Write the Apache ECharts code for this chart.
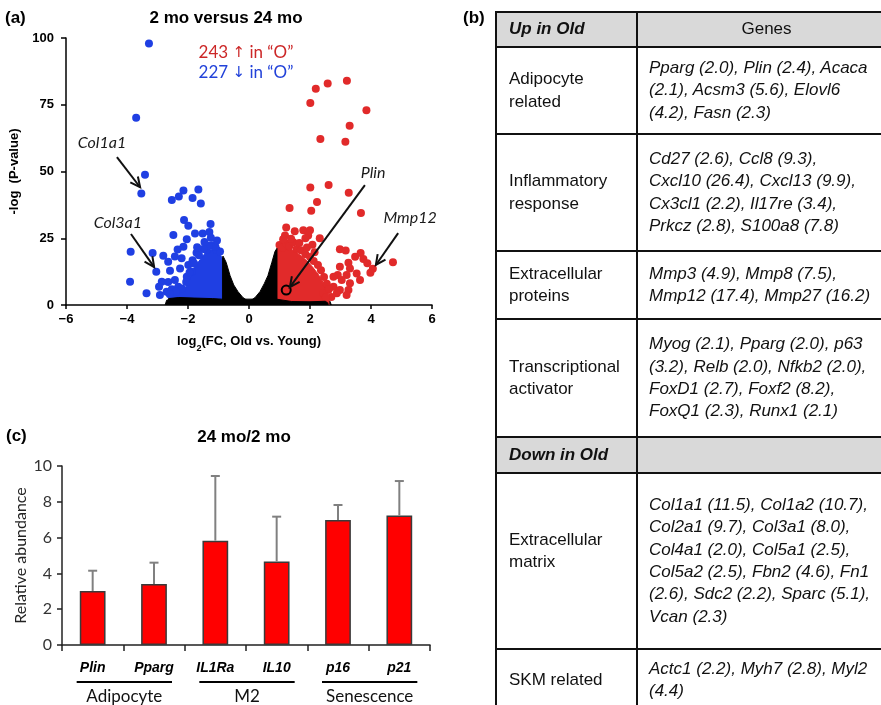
<!DOCTYPE html>
<html>
<head>
<meta charset="utf-8">
<script src="https://cdn.jsdelivr.net/npm/echarts@6/dist/echarts.min.js"></script>
<style>
  html, body { margin: 0; padding: 0; background: #fff; overflow: hidden; }
  #chart { position: absolute; left: 0; top: 0; width: 881px; height: 705px; }
  #genes { position: absolute; left: 495px; top: 11px; width: 400px; border-collapse: collapse; table-layout: fixed;
    font-family: "Liberation Sans", Arial, sans-serif; font-size: 17px; color: #111; line-height: 22.3px; }
  #genes td { border: 2px solid #111; vertical-align: middle; white-space: nowrap; padding: 0 0 0 12px; }
  #genes td.g { font-style: italic; padding-left: 11px; }
  #genes tr.hd td { background: #d9d9d9; }
  #genes .bi { font-weight: bold; font-style: italic; }
</style>
</head>
<body>
<div id="chart"></div>
<table id="genes">
  <colgroup><col style="width:141px"><col style="width:259px"></colgroup>
  <tr class="hd" style="height:35px"><td class="bi">Up in Old</td><td style="text-align:center;padding:0">Genes</td></tr>
  <tr style="height:87px"><td>Adipocyte<br>related</td><td class="g">Pparg (2.0), Plin (2.4), Acaca<br>(2.1), Acsm3 (5.6), Elovl6<br>(4.2), Fasn (2.3)</td></tr>
  <tr style="height:117px"><td>Inflammatory<br>response</td><td class="g">Cd27 (2.6), Ccl8 (9.3),<br>Cxcl10 (26.4), Cxcl13 (9.9),<br>Cx3cl1 (2.2), Il17re (3.4),<br>Prkcz (2.8), S100a8 (7.8)</td></tr>
  <tr style="height:68px"><td>Extracellular<br>proteins</td><td class="g">Mmp3 (4.9), Mmp8 (7.5),<br>Mmp12 (17.4), Mmp27 (16.2)</td></tr>
  <tr style="height:118px"><td>Transcriptional<br>activator</td><td class="g">Myog (2.1), Pparg (2.0), p63<br>(3.2), Relb (2.0), Nfkb2 (2.0),<br>FoxD1 (2.7), Foxf2 (8.2),<br>FoxQ1 (2.3), Runx1 (2.1)</td></tr>
  <tr class="hd" style="height:36px"><td class="bi">Down in Old</td><td></td></tr>
  <tr style="height:176px"><td style="padding-bottom:20px">Extracellular<br>matrix</td><td class="g">Col1a1 (11.5), Col1a2 (10.7),<br>Col2a1 (9.7), Col3a1 (8.0),<br>Col4a1 (2.0), Col5a1 (2.5),<br>Col5a2 (2.5), Fbn2 (4.6), Fn1<br>(2.6), Sdc2 (2.2), Sparc (5.1),<br>Vcan (2.3)</td></tr>
  <tr style="height:62px"><td>SKM related</td><td class="g">Actc1 (2.2), Myh7 (2.8), Myl2<br>(4.4)</td></tr>
</table>
<script>
// (a) volcano: significant genes, [log2FC, -log P]
const upGenes = [
  [3.21, 84.0], [2.58, 83.0], [2.19, 81.0], [2.01, 75.7], [3.85, 72.9], [3.30, 67.1], [2.34, 62.2], [3.16, 61.1],
  [2.01, 44.0], [2.61, 44.9], [3.27, 42.0], [2.23, 38.6], [1.33, 36.3], [2.04, 35.3], [3.67, 34.5],
  [1.22, 29.0], [1.50, 27.6], [1.78, 28.0], [2.00, 28.0], [1.18, 26.0], [1.94, 26.0], [1.85, 25.0], [2.32, 25.0],
  [2.98, 20.9], [3.17, 20.4], [3.66, 19.5], [3.48, 18.1], [3.75, 17.2], [4.72, 16.0], [3.88, 15.6], [4.06, 13.6],
  [3.98, 12.1], [3.26, 15.8], [2.98, 14.3], [3.31, 13.7], [3.53, 11.8], [3.20, 11.2], [2.91, 11.2], [3.64, 9.4],
  [3.31, 8.1], [3.04, 9.4], [2.77, 10.6], [2.77, 6.8], [2.98, 5.6], [3.26, 5.6], [3.20, 3.7], [2.60, 5.6],
  [2.88, 4.4], [2.44, 4.4],
  [1.00, 22.5], [1.10, 21.5], [1.22, 23.0], [1.32, 22.0], [1.45, 23.5], [1.56, 21.0], [1.70, 20.5], [1.85, 19.0],
  [2.00, 18.0], [2.12, 16.5], [2.26, 15.0], [2.36, 13.0], [2.46, 10.5], [2.55, 8.0], [2.62, 6.0], [1.65, 23.2],
  [1.90, 21.5], [2.15, 19.8], [1.38, 24.8], [2.70, 3.0], [2.52, 2.8], [2.08, 22.6], [1.12, 24.6]
];
const downGenes = [
  [-3.28, 97.9], [-3.70, 70.1], [-3.41, 48.8], [-3.53, 41.8],
  [-2.53, 39.3], [-2.30, 40.6], [-2.15, 42.9], [-1.66, 43.3], [-1.85, 40.1], [-1.58, 38.0],
  [-2.13, 31.8], [-1.26, 30.3], [-1.99, 29.7], [-2.48, 26.2], [-1.77, 26.8], [-1.52, 26.8], [-1.30, 27.3], [-2.04, 24.6],
  [-3.88, 19.9], [-3.16, 19.5], [-2.81, 18.4], [-2.43, 18.2], [-2.15, 21.8], [-2.34, 20.8],
  [-3.04, 12.5], [-2.65, 16.2], [-2.21, 17.5], [-2.59, 12.8], [-2.26, 13.7], [-1.99, 15.0],
  [-3.90, 8.7], [-2.86, 8.7], [-2.65, 8.6], [-2.95, 6.8], [-2.92, 3.7], [-3.36, 4.4], [-2.43, 9.4], [-2.32, 6.8],
  [-2.70, 5.0], [-2.53, 5.9], [-2.04, 10.6], [-1.88, 12.5], [-1.85, 16.8], [-1.72, 19.6], [-1.39, 20.6],
  [-1.22, 22.4], [-1.06, 20.6],
  [-0.95, 20.0], [-1.10, 21.8], [-1.32, 22.2], [-1.50, 21.0], [-1.64, 18.6], [-1.80, 15.5], [-1.95, 12.2],
  [-2.06, 8.6], [-2.20, 6.2], [-2.40, 5.0], [-2.60, 4.0], [-1.46, 23.6],
  [-1.05, 24.2], [-1.70, 21.6], [-1.25, 25.2]
];
// outlines of the dense clouds (top edge, filled down to 0)
const upCore = [[0.95, 0], [0.95, 21], [1.1, 22], [1.3, 21.5], [1.5, 20], [1.7, 18.5], [1.9, 16.5], [2.1, 14],
  [2.3, 11], [2.45, 8], [2.55, 5], [2.62, 2], [2.62, 0]];
const downCore = [[-2.62, 0], [-2.62, 3], [-2.4, 4.5], [-2.1, 6], [-1.95, 10], [-1.8, 14], [-1.6, 17], [-1.4, 20],
  [-1.2, 21], [-1.0, 20], [-0.9, 18], [-0.9, 0]];
const nsCloud = [[-2.75, 0], [-2.7, 1.8], [-2.4, 2.4], [-2.0, 2.6], [-1.5, 3], [-1.1, 3.5], [-0.97, 8], [-0.93, 17],
  [-0.85, 18.3], [-0.75, 16], [-0.62, 11], [-0.5, 7.5], [-0.36, 5], [-0.2, 2.8], [0, 1.2], [0.2, 2.8], [0.36, 5],
  [0.5, 8], [0.62, 11], [0.75, 16], [0.85, 20], [0.93, 21.5], [1.0, 21], [1.05, 4], [1.5, 3], [2.0, 2.6],
  [2.5, 2.2], [2.65, 1.5], [2.7, 0]];
// non-significant genes showing along the bottom of the coloured clouds
const nsBase = [[-2.68, 0], [-2.64, 2.4], [-2.3, 2.8], [-1.8, 2.6], [-1.2, 2.4], [-0.9, 2.2], [0.9, 2.2],
  [1.4, 1.3], [2.0, 1.2], [2.5, 1.4], [2.58, 0.8], [2.6, 0]];
const plinPoint = [[1.22, 5.6]];
const arrowSegs = [[-4.33, 55.4, -3.57, 44.1], [-3.87, 26.6, -3.11, 14.2], [3.80, 44.9, 1.34, 6.7], [4.89, 26.9, 4.16, 15.0]];
const geneLabels = [['Col1a1', -4.82, 60.6], ['Col3a1', -4.30, 30.7], ['Plin', 4.07, 49.4], ['Mmp12', 5.28, 32.5]];

// (c) qPCR, 24 mo / 2 mo
const barGenes = ['Plin', 'Pparg', 'IL1Ra', 'IL10', 'p16', 'p21'];
const barMeans = [3.02, 3.41, 5.83, 4.67, 6.98, 7.24];
const barErr = [1.13, 1.19, 3.61, 2.50, 0.84, 1.92];
const barGroups = [['Adipocyte', 0, 1], ['M2', 2, 3], ['Senescence', 4, 5]];

const FONT = '"Liberation Sans", Arial, sans-serif';
const SOFT = 'Lato, "Open Sans", sans-serif';
const RED = '#e12a2a';
const BLUE = '#1f3fe3';

const chart = echarts.init(document.getElementById('chart'));

function txt(id, text, x, y, font, fill, align) {
  return {
    id, type: 'text', z: 50,
    style: { text, x, y, font, fill: fill || '#000', align: align || 'center', verticalAlign: 'middle',
      textAlign: align || 'center', textVerticalAlign: 'middle' }
  };
}

function countText(id, n, arrow, y, fill) {
  return {
    id, type: 'text', z: 50,
    style: {
      text: '{t|' + n + ' }{r|' + arrow + '}{t| in \u201cO\u201d}', x: 246, y,
      align: 'center', verticalAlign: 'middle', textAlign: 'center', textVerticalAlign: 'middle',
      rich: {
        t: { fontFamily: SOFT, fontSize: 17, fill, color: fill },
        r: { fontFamily: '"DejaVu Sans"', fontSize: 15, fill, color: fill }
      }
    }
  };
}

const cloud = (data, color, z) => ({
  type: 'line', xAxisIndex: 0, yAxisIndex: 0, data, showSymbol: false, silent: true, z,
  lineStyle: { color, width: 1 }, areaStyle: { color, opacity: 1 }
});

chart.setOption({
  animation: false,
  grid: [
    { left: 66, top: 38, width: 366, height: 267 },
    { left: 62, top: 466, width: 368, height: 179 }
  ],
  xAxis: [
    {
      gridIndex: 0, type: 'value', min: -6, max: 6, interval: 2,
      axisLine: { show: true, onZero: false, lineStyle: { color: '#000', width: 1.5 } },
      axisTick: { show: true, length: 4, lineStyle: { color: '#000', width: 1.5 } },
      splitLine: { show: false },
      axisLabel: { fontFamily: FONT, fontWeight: 'bold', fontSize: 13, color: '#000', margin: 8,
        formatter: (v) => String(v).replace('-', '\u2212') },
      name: '{a|log}{s|2}{a|(FC, Old vs. Young)}', nameLocation: 'middle', nameGap: 30,
      nameTextStyle: { rich: {
        a: { fontFamily: FONT, fontWeight: 'bold', fontSize: 13, color: '#000', lineHeight: 18, verticalAlign: 'top' },
        s: { fontFamily: FONT, fontWeight: 'bold', fontSize: 9, color: '#000', lineHeight: 18, verticalAlign: 'bottom' }
      } }
    },
    {
      gridIndex: 1, type: 'category', data: barGenes,
      axisLine: { lineStyle: { color: '#222', width: 1.5 } },
      axisTick: { show: true, length: 6, interval: 0, lineStyle: { color: '#222', width: 1.5 } },
      axisLabel: { fontFamily: FONT, fontWeight: 'bold', fontStyle: 'italic', fontSize: 14, color: '#000', margin: 16 }
    }
  ],
  yAxis: [
    {
      gridIndex: 0, type: 'value', min: 0, max: 100, interval: 25,
      axisLine: { show: true, onZero: false, lineStyle: { color: '#000', width: 1.5 } },
      axisTick: { show: true, length: 5, lineStyle: { color: '#000', width: 1.5 } },
      splitLine: { show: false },
      axisLabel: { fontFamily: FONT, fontWeight: 'bold', fontSize: 13, color: '#000', margin: 12 },
      name: '-log  (P-value)', nameLocation: 'middle', nameGap: 45, nameRotate: 90,
      nameTextStyle: { fontFamily: FONT, fontWeight: 'bold', fontSize: 13, color: '#000' }
    },
    {
      gridIndex: 1, type: 'value', min: 0, max: 10, interval: 2,
      axisLine: { show: true, onZero: false, lineStyle: { color: '#222', width: 1.5 } },
      axisTick: { show: true, length: 5, lineStyle: { color: '#222', width: 1.5 } },
      splitLine: { show: false },
      axisLabel: { fontFamily: SOFT, fontSize: 16, color: '#333', margin: 10 },
      name: 'Relative abundance', nameLocation: 'middle', nameGap: 33, nameRotate: 90,
      nameTextStyle: { fontFamily: SOFT, fontSize: 16, color: '#222' }
    }
  ],
  series: [
    cloud(nsCloud, '#000', 1),
    cloud(upCore, RED, 2),
    cloud(downCore, BLUE, 2),
    { type: 'scatter', xAxisIndex: 0, yAxisIndex: 0, data: upGenes, symbolSize: 8, z: 3,
      itemStyle: { color: RED, opacity: 1 } },
    { type: 'scatter', xAxisIndex: 0, yAxisIndex: 0, data: downGenes, symbolSize: 8, z: 3,
      itemStyle: { color: BLUE, opacity: 1 } },
    cloud(nsBase, '#000', 4),
    { type: 'scatter', xAxisIndex: 0, yAxisIndex: 0, data: plinPoint, symbolSize: 9, z: 5,
      itemStyle: { color: 'rgba(0,0,0,0)', borderColor: '#000', borderWidth: 2, opacity: 1 } },
    {
      type: 'custom', xAxisIndex: 0, yAxisIndex: 0, data: arrowSegs, z: 6, silent: true,
      encode: { x: [0, 2], y: [1, 3] },
      renderItem: (params, api) => {
        const p1 = api.coord([api.value(0), api.value(1)]);
        const p2 = api.coord([api.value(2), api.value(3)]);
        const ang = Math.atan2(p2[1] - p1[1], p2[0] - p1[0]);
        const h = 11, w = 0.45;
        const a1 = [p2[0] - h * Math.cos(ang - w), p2[1] - h * Math.sin(ang - w)];
        const a2 = [p2[0] - h * Math.cos(ang + w), p2[1] - h * Math.sin(ang + w)];
        return { type: 'group', children: [
          { type: 'line', shape: { x1: p1[0], y1: p1[1], x2: p2[0], y2: p2[1] }, style: { stroke: '#111', lineWidth: 2 } },
          { type: 'polyline', shape: { points: [a1, p2, a2] }, style: { stroke: '#111', lineWidth: 2, fill: null } }
        ] };
      }
    },
    {
      type: 'scatter', xAxisIndex: 0, yAxisIndex: 0, symbolSize: 0, z: 7, silent: true,
      itemStyle: { opacity: 1 },
      data: geneLabels.map(([name, x, y]) => ({ name, value: [x, y] })),
      label: { show: true, position: 'inside', formatter: '{b}', fontFamily: SOFT, fontStyle: 'italic',
        fontSize: 16, color: '#1a1a1a' }
    },
    {
      type: 'bar', xAxisIndex: 1, yAxisIndex: 1, data: barMeans, barWidth: '42%',
      itemStyle: { color: '#ff0000', borderColor: '#3a3a3a', borderWidth: 1.5 }
    },
    {
      type: 'custom', xAxisIndex: 1, yAxisIndex: 1, z: 5, silent: true,
      data: barMeans.map((m, i) => [i, m, m + barErr[i]]),
      encode: { x: 0, y: [1, 2] },
      renderItem: (params, api) => {
        const lo = api.coord([api.value(0), api.value(1)]);
        const hi = api.coord([api.value(0), api.value(2)]);
        const style = { stroke: '#808080', lineWidth: 2 };
        return { type: 'group', children: [
          { type: 'line', shape: { x1: lo[0], y1: lo[1], x2: hi[0], y2: hi[1] }, style },
          { type: 'line', shape: { x1: hi[0] - 4.5, y1: hi[1], x2: hi[0] + 4.5, y2: hi[1] }, style }
        ] };
      }
    }
  ],
  graphic: [
    txt('ta', '(a)', 5, 18, 'bold 17px ' + FONT, '#000', 'left'),
    txt('tat', '2 mo versus 24 mo', 226, 18, 'bold 17px ' + FONT),
    countText('up', 243, '\u2191', 53, '#cc2727'),
    countText('dn', 227, '\u2193', 73, '#2242d9'),
    txt('tb', '(b)', 463, 18, 'bold 17px ' + FONT, '#000', 'left'),
    txt('tc', '(c)', 6, 436, 'bold 17px ' + FONT, '#000', 'left'),
    txt('tct', '24 mo/2 mo', 244, 437, 'bold 17px ' + FONT)
  ]
});

// group brackets under the bar categories
const groupMarks = [];
barGroups.forEach(([name, i0, i1], k) => {
  const x0 = chart.convertToPixel({ xAxisIndex: 1 }, i0);
  const x1 = chart.convertToPixel({ xAxisIndex: 1 }, i1);
  groupMarks.push({
    id: 'gl' + k, type: 'line', z: 50,
    shape: { x1: x0 - 16, y1: 682, x2: x1 + 18, y2: 682 }, style: { stroke: '#000', lineWidth: 2 }
  });
  groupMarks.push(txt('gt' + k, name, (x0 + x1) / 2 + 1, 697, '17px ' + SOFT, '#111'));
});
chart.setOption({ graphic: groupMarks });
</script>
</body>
</html>
